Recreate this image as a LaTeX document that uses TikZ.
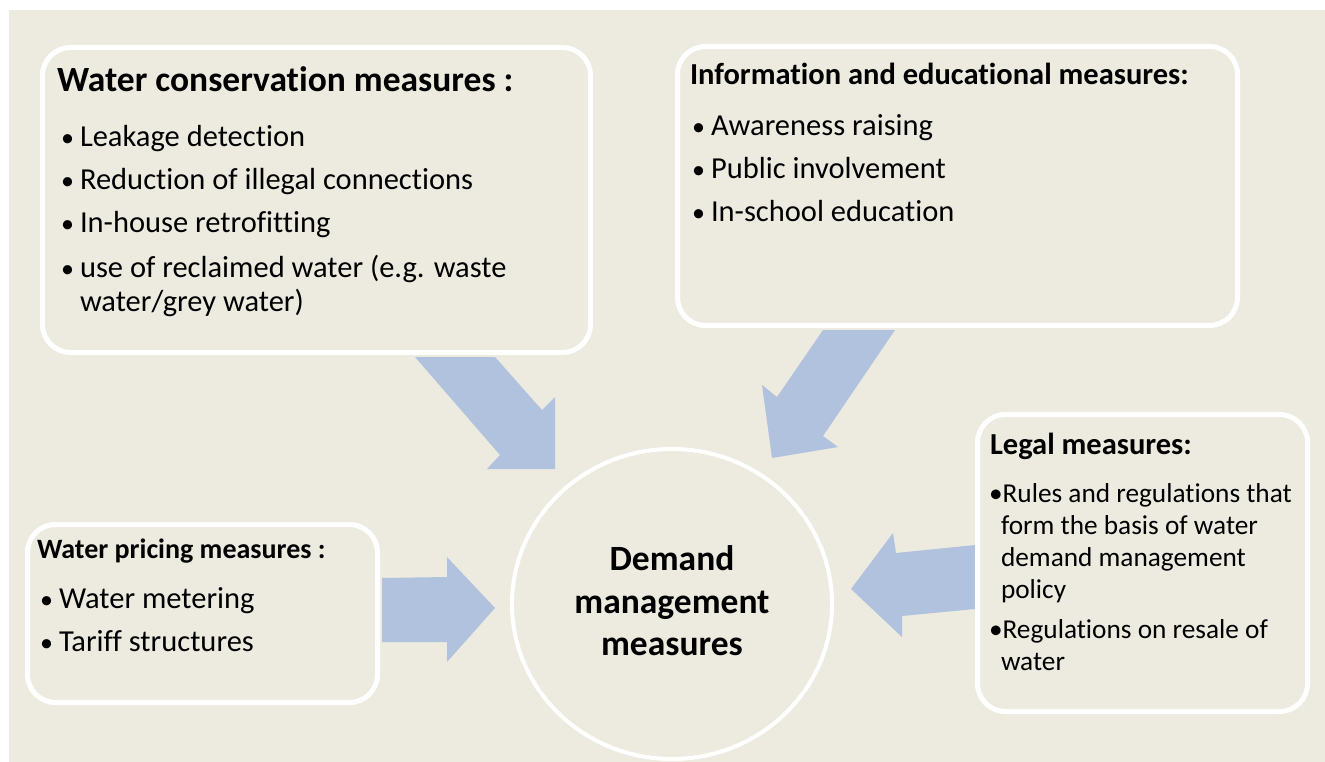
\documentclass[tikz,border=0pt]{standalone}
\usepackage{fontspec}
\usetikzlibrary{shapes.geometric}
\setmainfont{Carlito}[Ligatures=NoCommon]
\definecolor{bg}{RGB}{237,235,224}
\definecolor{arrowblue}{RGB}{176,194,222}
\tikzset{
  panel/.style={draw=white, line width=5pt, rounded corners=28pt, fill=bg, inner sep=0pt},
  bigarrow/.style={fill=arrowblue, draw=none},
  txt/.style={anchor=base west, inner sep=0pt, outer sep=0pt},
  bul/.style={txt, font=\fontsize{30.5}{34}\selectfont},
  bulsmall/.style={txt, font=\fontsize{27.3}{31}\selectfont},
  ctr/.style={anchor=base, inner sep=0pt, font=\fontsize{35.5}{40}\selectfont\bfseries},
}
\newcommand{\bl}{\makebox[19pt][l]{\fontsize{26}{30}\selectfont•}}
\begin{document}
\begin{tikzpicture}[x=1pt,y=-1pt]
\useasboundingbox (0,0) rectangle (1325,762);
\fill[white] (0,0) rectangle (1325,762);
\fill[bg] (9,10) rectangle (1325,762);

% arrows
\fill[bigarrow] (415,357) -- (495,357) -- (542,410) -- (555,397) -- (555,469) -- (487,469) -- (500,455) -- cycle;
\fill[bigarrow] (823,330) -- (895,330) -- (823,436) -- (838,447) -- (772,458) -- (762,385) -- (777,397) -- cycle;
\fill[bigarrow] (382,578) -- (447,577) -- (447,557) -- (495,608) -- (447,662) -- (447,642) -- (382,642) -- cycle;
\fill[bigarrow] (975,545) -- (896,553) -- (893,533) -- (851,589) -- (902,637) -- (902,616) -- (975,609) -- cycle;

% panels
\node[panel, minimum width=548pt, minimum height=305pt] (cons) at (316.5,200) {};
\node[panel, minimum width=560pt, minimum height=279pt] (info) at (957.5,186) {};
\node[panel, minimum width=330pt, minimum height=297pt] (legal) at (1142.5,563) {};
\node[panel, minimum width=350pt, minimum height=178pt] (price) at (202.5,613.5) {};
\node[draw=white, line width=4pt, ellipse, minimum width=320pt, minimum height=310pt, inner sep=0pt] (dm) at (672,604) {};

\node[ctr] (d1) at (672,570) {Demand};
\node[ctr] (d2) at (672,613) {management};
\node[ctr] (d3) at (672,655) {measures};

% conservation
\node[txt, font=\fontsize{35.5}{40}\selectfont\bfseries] (c0) at (57,92) {Water conservation measures :};
\node[bul] (c1) at (61,147) {\bl Leakage detection};
\node[bul] (c2) at (61,190) {\bl Reduction of illegal connections};
\node[bul] (c3) at (61,233) {\bl In-house retrofitting};
\node[bul] (c4) at (61,277) {\bl use of reclaimed water (e.g. waste};
\node[bul] (c5) at (80,311) {water/grey water)};

% information
\node[txt, font=\fontsize{30.5}{34}\selectfont\bfseries] (i0) at (690,85) {Information and educational measures:};
\node[bul] (i1) at (692,136) {\bl Awareness raising};
\node[bul] (i2) at (692,179) {\bl Public involvement};
\node[bul] (i3) at (692,222) {\bl In-school education};

% legal
\node[txt, font=\fontsize{30.5}{34}\selectfont\bfseries] (l0) at (990,454) {Legal measures:};
\node[bulsmall] (l1) at (989,502) {•Rules and regulations that};
\node[bulsmall] (l2) at (1001,534) {form the basis of water};
\node[bulsmall] (l3) at (1001,566) {demand management};
\node[bulsmall] (l4) at (1001,598) {policy};
\node[bulsmall] (l5) at (989,638) {•Regulations on resale of};
\node[bulsmall] (l6) at (1001,670) {water};

% pricing
\node[txt, font=\fontsize{28}{32}\selectfont\bfseries] (p0) at (37,558) {Water pricing measures :};
\node[bul] (p1) at (40,608) {\bl Water metering};
\node[bul] (p2) at (40,651) {\bl Tariff structures};
\end{tikzpicture}
\end{document}
